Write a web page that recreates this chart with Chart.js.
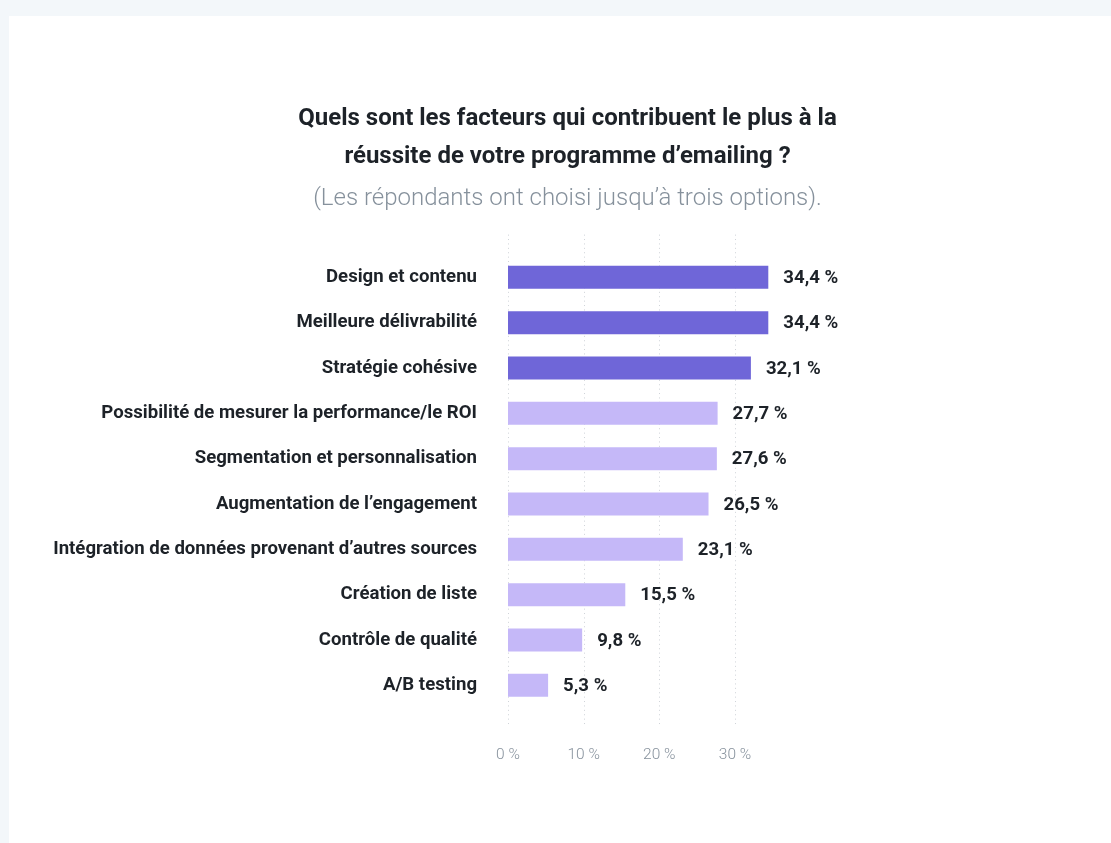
<!DOCTYPE html>
<html>
<head>
<meta charset="utf-8">
<script src="https://cdn.jsdelivr.net/npm/chart.js@4.4.1/dist/chart.umd.min.js"></script>
<style>
  html, body { margin: 0; padding: 0; width: 1111px; height: 843px; overflow: hidden; background: #f3f7fa; }
  #card { position: absolute; left: 9px; top: 16px; width: 1110px; height: 840px; background: #ffffff; }
  #wrap { position: absolute; left: 0; top: 0; width: 1135px; height: 843px; }
</style>
</head>
<body>
<div id="card"></div>
<div id="wrap"><canvas id="c" width="1135" height="843"></canvas></div>
<script>
// ---- data ----
const titleLines = ["Quels sont les facteurs qui contribuent le plus à la", "réussite de votre programme d’emailing ?"];
const subtitleText = "(Les répondants ont choisi jusqu’à trois options).";
const categories = [
  "Design et contenu",
  "Meilleure délivrabilité",
  "Stratégie cohésive",
  "Possibilité de mesurer la performance/le ROI",
  "Segmentation et personnalisation",
  "Augmentation de l’engagement",
  "Intégration de données provenant d’autres sources",
  "Création de liste",
  "Contrôle de qualité",
  "A/B testing"
];
const values = [34.4, 34.4, 32.1, 27.7, 27.6, 26.5, 23.1, 15.5, 9.8, 5.3];
const xTicks = [0, 10, 20, 30];

// ---- style ----
const DARK = '#6f66d8';
const LIGHT = '#c5b8f8';
const HIGHLIGHT_COUNT = 3;
const TEXT = '#1d2228';
const MUTED = '#86919c';
const GRID = '#cfd3d8';

const fmt = v => v.toFixed(1).replace('.', ',') + ' %';

const gridPlugin = {
  id: 'dottedGrid',
  beforeDatasetsDraw(chart) {
    const {ctx, chartArea, scales} = chart;
    const x = scales.x;
    ctx.save();
    ctx.strokeStyle = GRID;
    ctx.lineWidth = 1;
    ctx.setLineDash([1, 3.4]);
    x.ticks.forEach(t => {
      const px = Math.round(x.getPixelForValue(t.value)) + 0.5;
      ctx.beginPath();
      ctx.moveTo(px, chartArea.top - 20);
      ctx.lineTo(px, chartArea.bottom + 19);
      ctx.stroke();
    });
    ctx.restore();
  }
};

const valueLabels = {
  id: 'valueLabels',
  afterDatasetsDraw(chart) {
    const {ctx} = chart;
    const meta = chart.getDatasetMeta(0);
    ctx.save();
    ctx.font = 'bold 18.6px Roboto';
    ctx.fillStyle = TEXT;
    ctx.textAlign = 'left';
    ctx.textBaseline = 'middle';
    meta.data.forEach((bar, i) => {
      ctx.fillText(fmt(chart.data.datasets[0].data[i]), bar.x + 15, bar.y + 1);
    });
    ctx.restore();
  }
};

function draw() {
  new Chart(document.getElementById('c'), {
    type: 'bar',
    data: {
      labels: categories,
      datasets: [{
        data: values,
        backgroundColor: ctx => ctx.dataIndex < HIGHLIGHT_COUNT ? DARK : LIGHT,
        borderWidth: 0,
        barPercentage: 0.508,
        categoryPercentage: 1
      }]
    },
    options: {
      indexAxis: 'y',
      responsive: false,
      animation: false,
      devicePixelRatio: 1,
      layout: { padding: { left: 0, right: 0, top: 0, bottom: 80 } },
      plugins: {
        legend: { display: false },
        tooltip: { enabled: false },
        title: {
          display: true,
          text: titleLines,
          color: TEXT,
          font: { family: 'Roboto', size: 24, weight: 'bold', lineHeight: 1.58 },
          padding: { top: 100, bottom: 0 }
        },
        subtitle: {
          display: true,
          text: subtitleText,
          color: MUTED,
          font: { family: 'Roboto', size: 24, weight: '300', lineHeight: 1.2 },
          padding: { top: 9, bottom: 41 }
        }
      },
      scales: {
        x: {
          type: 'linear',
          min: 0,
          max: 82.86,
          afterBuildTicks: s => { s.ticks = xTicks.map(v => ({ value: v })); },
          afterFit: s => { s.height = 55; },
          grid: { display: false, drawTicks: false },
          border: { display: false },
          ticks: {
            stepSize: 10,
            includeBounds: false,
            maxRotation: 0,
            padding: 38,
            color: MUTED,
            font: { family: 'Roboto', size: 15.5, weight: '300' },
            callback: v => v + ' %'
          }
        },
        y: {
          afterFit: s => { s.width = 508; },
          grid: { display: false, drawTicks: false },
          border: { display: false },
          ticks: {
            padding: 31,
            color: TEXT,
            font: { family: 'Roboto', size: 18.6, weight: 'bold' }
          }
        }
      }
    },
    plugins: [gridPlugin, valueLabels]
  });
}

Promise.all([
  document.fonts.load('bold 18.6px Roboto'),
  document.fonts.load('300 15.5px Roboto'),
  document.fonts.load('bold 24px Roboto'),
  document.fonts.load('300 24px Roboto')
]).then(draw, draw);
</script>
</body>
</html>
